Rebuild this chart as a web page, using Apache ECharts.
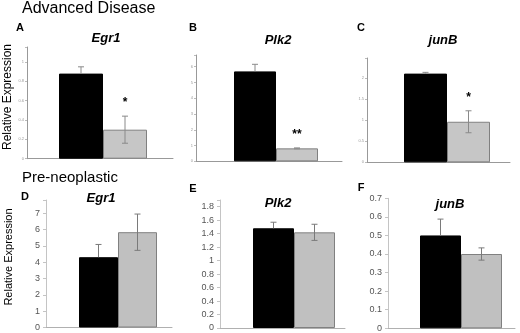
<!DOCTYPE html>
<html lang="en">
<head>
<meta charset="UTF-8">
<title>Relative Expression</title>
<script src="https://cdn.jsdelivr.net/npm/echarts@6/dist/echarts.min.js"></script>
<style>
    html, body { margin: 0; padding: 0; background: #fff; }
    #main { width: 520px; height: 333px; }
</style>
</head>
<body>
<div id="main"></div>
<script>
    // data
    var sections = ['Advanced Disease', 'Pre-neoplastic'];
    var yName = 'Relative Expression';
    var panels = ['A', 'B', 'C', 'D', 'E', 'F'];
    var genes = ['Egr1', 'Plk2', 'junB', 'Egr1', 'Plk2', 'junB'];
    var blackVals = [0.88, 5.70, 2.10, 4.30, 1.48, 0.50];
    var blackErr = [0.07, 0.45, 0.03, 0.78, 0.09, 0.088];
    var grayVals = [0.30, 0.82, 0.96, 5.83, 1.42, 0.40];
    var grayErr = [0.14, 0.03, 0.26, 1.11, 0.12, 0.033];
    var signif = ['*', '**', '*', '', '', ''];
    var yMax = [1.155, 6.74, 2.47, 7.8, 1.9, 0.7];
    var yStep = [0.2, 1, 0.5, 1, 0.2, 0.1];

    // layout of each small chart (px)
    var layout = [
        {left: 27, top: 47, width: 146, height: 111.7, bar: 44, shift: 3, small: true, letter: [20, 28], title: [106, 38]},
        {left: 196, top: 55, width: 146, height: 106.3, bar: 42, shift: 7, small: true, letter: [193, 28], title: [278, 40]},
        {left: 367, top: 58, width: 143, height: 104.3, bar: 43, shift: 8.5, small: true, letter: [361, 28], title: [443, 40]},
        {left: 46, top: 200, width: 126, height: 127.5, bar: 39, shift: 9, small: false, letter: [25, 197], title: [101, 198]},
        {left: 220, top: 200, width: 125, height: 128, bar: 41, shift: 11.5, small: false, letter: [193, 189], title: [278, 203]},
        {left: 388, top: 198.3, width: 127, height: 130, bar: 41, shift: 9.5, small: false, letter: [361, 188], title: [450, 204]}
    ];

    var myChart = echarts.init(document.getElementById('main'), null, {renderer: 'canvas'});

    function stepLabel(step) {
        return function (v) {
            var k = v / step;
            if (Math.abs(k - Math.round(k)) > 1e-6) return '';
            return String(+v.toFixed(2));
        };
    }

    function errorRenderer(i) {
        var L = layout[i];
        var col = L.small ? '#8a8a8a' : '#7a7a7a';
        return function (params, api) {
            var c = api.coord([0, 0]);
            var xb = c[0] + L.shift - L.bar / 2;
            var xg = c[0] + L.shift + L.bar / 2;
            var bTop = api.coord([0, api.value(1) + api.value(2)])[1];
            var bVal = api.coord([0, api.value(1)])[1];
            var gTop = api.coord([0, api.value(3) + api.value(4)])[1];
            var gLow = api.coord([0, api.value(3) - api.value(4)])[1];
            var cap = 3;
            var st = {stroke: col, lineWidth: 1};
            var kids = [
                {type: 'line', shape: {x1: xb, y1: bVal, x2: xb, y2: bTop}, style: st},
                {type: 'line', shape: {x1: xb - cap, y1: bTop, x2: xb + cap, y2: bTop}, style: st},
                {type: 'line', shape: {x1: xg, y1: gLow, x2: xg, y2: gTop}, style: st},
                {type: 'line', shape: {x1: xg - cap, y1: gTop, x2: xg + cap, y2: gTop}, style: st},
                {type: 'line', shape: {x1: xg - cap, y1: gLow, x2: xg + cap, y2: gLow}, style: st}
            ];
            if (signif[i]) {
                kids.push({
                    type: 'text',
                    style: {
                        x: xg, y: gTop - 13, text: signif[i],
                        font: 'bold 12px "Liberation Sans", Arial, sans-serif',
                        fill: '#000', align: 'center', verticalAlign: 'middle'
                    }
                });
            }
            return {type: 'group', children: kids};
        };
    }

    var grids = [], xAxes = [], yAxes = [], series = [], graphics = [];

    layout.forEach(function (L, i) {
        grids.push({left: L.left, top: L.top, width: L.width, height: L.height});
        xAxes.push({
            type: 'category', gridIndex: i, data: [genes[i]],
            axisLine: {lineStyle: {color: L.small ? '#999' : '#b0b0b0', width: 1}},
            axisTick: {show: false}, axisLabel: {show: false}, splitLine: {show: false}
        });
        yAxes.push({
            type: 'value', gridIndex: i, min: 0, max: yMax[i], interval: yStep[i],
            axisLine: {show: true, lineStyle: {color: L.small ? '#999' : '#c4c4c4', width: 1}},
            axisTick: {show: true, length: L.small ? 2 : 3, lineStyle: {color: L.small ? '#bbb' : '#c4c4c4'}},
            axisLabel: {
                formatter: stepLabel(yStep[i]),
                fontSize: L.small ? 4 : 9,
                color: L.small ? '#999' : '#555',
                margin: L.small ? 3 : 6,
                fontFamily: '"Liberation Sans", Arial, sans-serif'
            },
            splitLine: {show: false}
        });
        // invisible spacer to push the pair of bars right, as in the figure
        series.push({
            type: 'bar', xAxisIndex: i, yAxisIndex: i, data: [0],
            barWidth: L.shift * 2, barGap: '0%', silent: true,
            itemStyle: {color: 'rgba(0,0,0,0)'}
        });
        series.push({
            type: 'bar', xAxisIndex: i, yAxisIndex: i, data: [blackVals[i]],
            barWidth: L.bar, barGap: '0%',
            itemStyle: {color: '#000', borderColor: '#000', borderWidth: 1}
        });
        series.push({
            type: 'bar', xAxisIndex: i, yAxisIndex: i, data: [grayVals[i]],
            barWidth: L.bar, barGap: '0%',
            itemStyle: {color: L.small ? '#c6c6c6' : '#c0c0c0', borderColor: '#808080', borderWidth: 1}
        });
        series.push({
            type: 'custom', xAxisIndex: i, yAxisIndex: i, z: 5,
            data: [[0, blackVals[i], blackErr[i], grayVals[i], grayErr[i]]],
            renderItem: errorRenderer(i)
        });

        graphics.push({
            type: 'text', x: L.letter[0], y: L.letter[1],
            style: {text: panels[i], font: 'bold 11px "Liberation Sans", Arial, sans-serif', fill: '#000', align: 'center', verticalAlign: 'middle'}
        });
        graphics.push({
            type: 'text', x: L.title[0], y: L.title[1],
            style: {text: genes[i], font: 'italic bold 13px "Liberation Sans", Arial, sans-serif', fill: '#000', align: 'center', verticalAlign: 'middle'}
        });
    });

    graphics.push({
        type: 'text', x: 22, y: 9,
        style: {text: sections[0], font: '16px "Liberation Sans", Arial, sans-serif', fill: '#000', align: 'left', verticalAlign: 'middle'}
    });
    graphics.push({
        type: 'text', x: 22, y: 178,
        style: {text: sections[1], font: '15px "Liberation Sans", Arial, sans-serif', fill: '#000', align: 'left', verticalAlign: 'middle'}
    });
    graphics.push({
        type: 'text', x: 8, y: 97, rotation: Math.PI / 2,
        style: {text: yName, font: '12px "Liberation Sans", Arial, sans-serif', fill: '#000', align: 'center', verticalAlign: 'middle'}
    });
    graphics.push({
        type: 'text', x: 9, y: 257, rotation: Math.PI / 2,
        style: {text: yName, font: '11px "Liberation Sans", Arial, sans-serif', fill: '#000', align: 'center', verticalAlign: 'middle'}
    });

    myChart.setOption({
        animation: false,
        backgroundColor: '#fff',
        grid: grids,
        xAxis: xAxes,
        yAxis: yAxes,
        series: series,
        graphic: graphics
    });
</script>
</body>
</html>
